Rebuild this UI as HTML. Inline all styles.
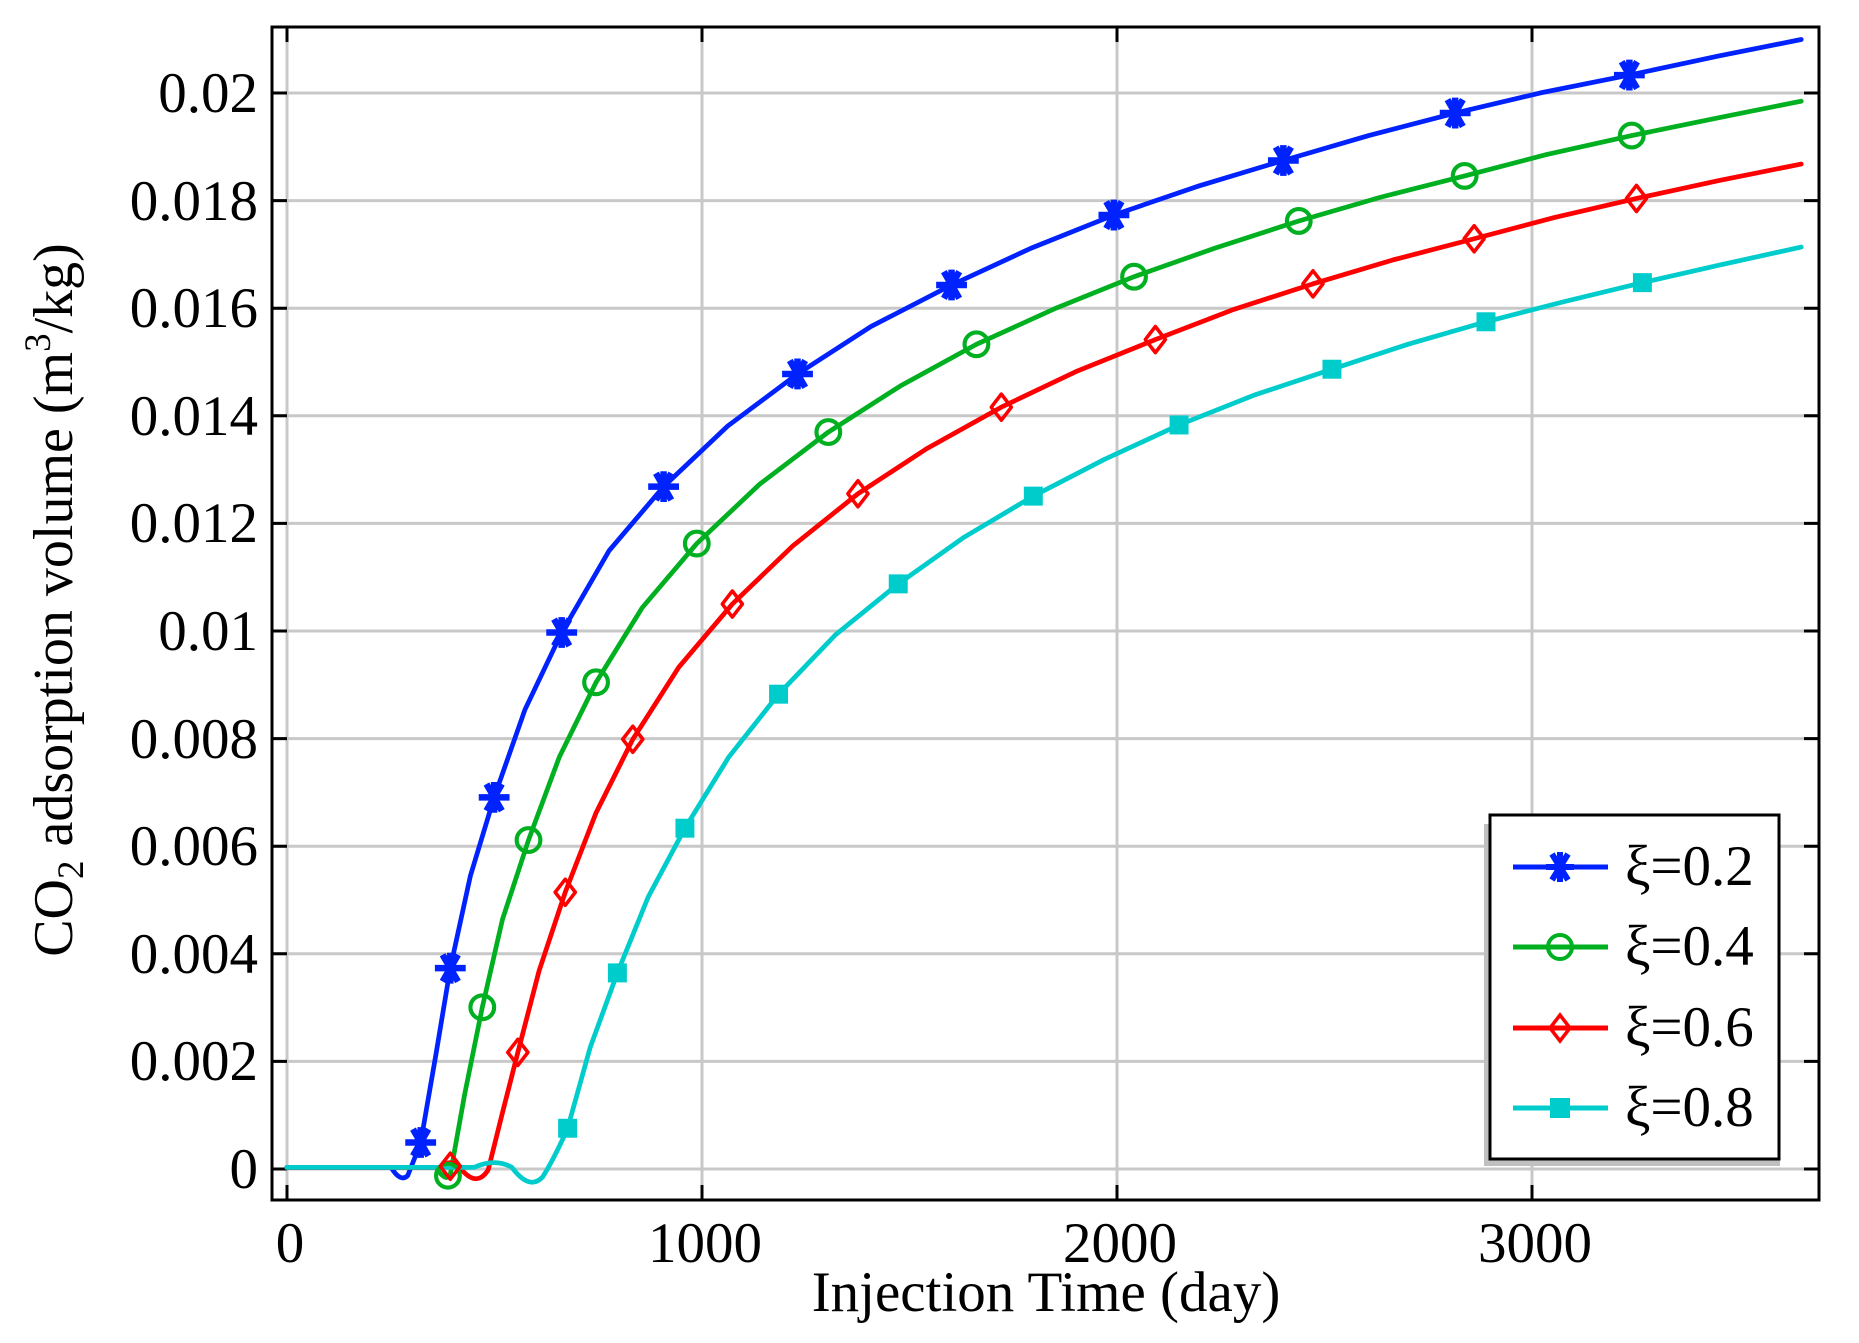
<!DOCTYPE html>
<html><head><meta charset="utf-8"><style>
html,body{margin:0;padding:0;background:#fff;}
svg{display:block;}
text{font-family:"Liberation Serif",serif;fill:#000;}
</style></head><body>
<svg width="1859" height="1343" viewBox="0 0 1859 1343" xmlns="http://www.w3.org/2000/svg">
<rect x="0" y="0" width="1859" height="1343" fill="#fff"/>
<g stroke="#c8c8c8" stroke-width="3">
<line x1="287" y1="28" x2="287" y2="1199"/>
<line x1="702" y1="28" x2="702" y2="1199"/>
<line x1="1117" y1="28" x2="1117" y2="1199"/>
<line x1="1532" y1="28" x2="1532" y2="1199"/>
<line x1="273" y1="1169" x2="1818" y2="1169"/>
<line x1="273" y1="1061.4" x2="1818" y2="1061.4"/>
<line x1="273" y1="953.8" x2="1818" y2="953.8"/>
<line x1="273" y1="846.2" x2="1818" y2="846.2"/>
<line x1="273" y1="738.6" x2="1818" y2="738.6"/>
<line x1="273" y1="631" x2="1818" y2="631"/>
<line x1="273" y1="523.4" x2="1818" y2="523.4"/>
<line x1="273" y1="415.8" x2="1818" y2="415.8"/>
<line x1="273" y1="308.2" x2="1818" y2="308.2"/>
<line x1="273" y1="200.6" x2="1818" y2="200.6"/>
<line x1="273" y1="93" x2="1818" y2="93"/>
</g>
<g stroke="#000" stroke-width="3">
<path d="M272 1169h15M272 1061.4h15M272 953.8h15M272 846.2h15M272 738.6h15M272 631h15M272 523.4h15M272 415.8h15M272 308.2h15M272 200.6h15M272 93h15"/>
<path d="M1819 1169h-15M1819 1061.4h-15M1819 953.8h-15M1819 846.2h-15M1819 738.6h-15M1819 631h-15M1819 523.4h-15M1819 415.8h-15M1819 308.2h-15M1819 200.6h-15M1819 93h-15"/>
<path d="M287 1200v-15M702 1200v-15M1117 1200v-15M1532 1200v-15M287 27v15M702 27v15M1117 27v15M1532 27v15"/>
</g>
<g transform="matrix(1.185 0 0 1.186 0 -2)" fill="none" stroke-width="4" stroke-linejoin="round" stroke-linecap="round">
<path stroke="#0022ff" d="M242 986 L330 986 Q338 999 344 993 L350 978 L355 965 L368 890 L380 818 L397 740 L417 674 L443 600 L474 535 L514 466 L560 412 L614 361 L673 317 L735 277 L803 242 L870 211 L940 183 L1010 159 L1083 137 L1155 116 L1228 97 L1300 80 L1375 65 L1450 49 L1520 35"/>
<path stroke="#00b020" d="M242 986 L368 986 Q376 999 380 992 L392 925 L407 851 L424 777 L446 710 L472 640 L503 577 L542 514 L588 460 L641 410 L699 366 L760 327 L824 292 L890 262 L957 235 L1025 211 L1096 188 L1165 168 L1236 150 L1305 132 L1377 116 L1450 101 L1520 87"/>
<path stroke="#ff0000" d="M242 986 L372 986 Q380 978 388 986 Q402 1004 412 988 L424 940 L437 889 L455 820 L477 754 L503 687 L534 625 L573 564 L618 511 L669 462 L724 418 L782 380 L845 345 L908 315 L975 288 L1040 263 L1108 241 L1175 221 L1244 203 L1312 185 L1381 169 L1450 154 L1520 140"/>
<path stroke="#00cccc" d="M242 986 L400 986 Q418 978 432 986 Q447 1006 458 994 Q468 978 479 953 L498 885 L521 822 L547 758 L578 700 L615 640 L657 587 L705 537 L758 494 L813 455 L872 420 L932 389 L995 360 L1058 335 L1124 313 L1188 292 L1254 273 L1320 256 L1386 240 L1452 225 L1520 210"/>
<g stroke="#0022ff" stroke-width="5.5" stroke-linecap="butt">
<path d="M-13 0H13M0-13V13M-6.5-11.3L6.5 11.3M6.5-11.3L-6.5 11.3" transform="translate(355 965)"/>
<path d="M-13 0H13M0-13V13M-6.5-11.3L6.5 11.3M6.5-11.3L-6.5 11.3" transform="translate(380 818)"/>
<path d="M-13 0H13M0-13V13M-6.5-11.3L6.5 11.3M6.5-11.3L-6.5 11.3" transform="translate(417 674)"/>
<path d="M-13 0H13M0-13V13M-6.5-11.3L6.5 11.3M6.5-11.3L-6.5 11.3" transform="translate(474 535)"/>
<path d="M-13 0H13M0-13V13M-6.5-11.3L6.5 11.3M6.5-11.3L-6.5 11.3" transform="translate(560 412)"/>
<path d="M-13 0H13M0-13V13M-6.5-11.3L6.5 11.3M6.5-11.3L-6.5 11.3" transform="translate(673 317)"/>
<path d="M-13 0H13M0-13V13M-6.5-11.3L6.5 11.3M6.5-11.3L-6.5 11.3" transform="translate(803 242)"/>
<path d="M-13 0H13M0-13V13M-6.5-11.3L6.5 11.3M6.5-11.3L-6.5 11.3" transform="translate(940 183)"/>
<path d="M-13 0H13M0-13V13M-6.5-11.3L6.5 11.3M6.5-11.3L-6.5 11.3" transform="translate(1083 137)"/>
<path d="M-13 0H13M0-13V13M-6.5-11.3L6.5 11.3M6.5-11.3L-6.5 11.3" transform="translate(1228 97)"/>
<path d="M-13 0H13M0-13V13M-6.5-11.3L6.5 11.3M6.5-11.3L-6.5 11.3" transform="translate(1375 65)"/>
</g>
<g stroke="#00b020" stroke-width="3.5" fill="none">
<circle cx="378" cy="993" r="10"/><circle cx="407" cy="851" r="10"/><circle cx="446" cy="710" r="10"/>
<circle cx="503" cy="577" r="10"/><circle cx="588" cy="460" r="10"/><circle cx="699" cy="366" r="10"/>
<circle cx="824" cy="292" r="10"/><circle cx="957" cy="235" r="10"/><circle cx="1096" cy="188" r="10"/>
<circle cx="1236" cy="150" r="10"/><circle cx="1377" cy="116" r="10"/>
</g>
<g stroke="#ff0000" stroke-width="3" fill="none">
<path d="M380 974l8.5 11-8.5 11-8.5-11z"/><path d="M437 878l8.5 11-8.5 11-8.5-11z"/><path d="M477 743l8.5 11-8.5 11-8.5-11z"/>
<path d="M534 614l8.5 11-8.5 11-8.5-11z"/><path d="M618 500l8.5 11-8.5 11-8.5-11z"/><path d="M724 407l8.5 11-8.5 11-8.5-11z"/>
<path d="M845 334l8.5 11-8.5 11-8.5-11z"/><path d="M975 277l8.5 11-8.5 11-8.5-11z"/><path d="M1108 230l8.5 11-8.5 11-8.5-11z"/>
<path d="M1244 192l8.5 11-8.5 11-8.5-11z"/><path d="M1381 158l8.5 11-8.5 11-8.5-11z"/>
</g>
<g fill="#00cccc" stroke="none">
<rect x="471" y="945" width="16" height="16"/><rect x="513" y="814" width="16" height="16"/><rect x="570" y="692" width="16" height="16"/>
<rect x="649" y="579" width="16" height="16"/><rect x="750" y="486" width="16" height="16"/><rect x="864" y="412" width="16" height="16"/>
<rect x="987" y="352" width="16" height="16"/><rect x="1116" y="305" width="16" height="16"/><rect x="1246" y="265" width="16" height="16"/>
<rect x="1378" y="232" width="16" height="16"/>
</g>
</g>
<rect x="272" y="27" width="1547" height="1173" fill="none" stroke="#000" stroke-width="3"/>
<g font-size="57" text-anchor="end">
<text x="258" y="1188">0</text>
<text x="258" y="1080">0.002</text>
<text x="258" y="973">0.004</text>
<text x="258" y="865">0.006</text>
<text x="258" y="758">0.008</text>
<text x="258" y="650">0.01</text>
<text x="258" y="542">0.012</text>
<text x="258" y="435">0.014</text>
<text x="258" y="327">0.016</text>
<text x="258" y="220">0.018</text>
<text x="258" y="112">0.02</text>
</g>
<g font-size="57" text-anchor="middle">
<text x="290" y="1262">0</text>
<text x="705" y="1262">1000</text>
<text x="1120" y="1262">2000</text>
<text x="1535" y="1262">3000</text>
</g>
<text x="1046" y="1311" font-size="57" text-anchor="middle">Injection Time (day)</text>
<text transform="translate(72 600) rotate(-90)" font-size="56" text-anchor="middle">CO<tspan font-size="37" dy="11">2</tspan><tspan dy="-11"> adsorption volume (m</tspan><tspan font-size="37" dy="-22">3</tspan><tspan dy="22">/kg)</tspan></text>
<rect x="1484" y="824" width="296" height="342" fill="#c0c0c0"/>
<rect x="1490" y="815" width="289" height="344" fill="#fff" stroke="#000" stroke-width="3"/>
<g stroke-width="5">
<line x1="1513" y1="867" x2="1608" y2="867" stroke="#0022ff"/>
<path d="M1546 867h28M1560 852v30M1552 854l16 26M1568 854l-16 26" stroke="#0022ff" stroke-width="6"/>
<line x1="1513" y1="947" x2="1608" y2="947" stroke="#00b020"/>
<circle cx="1560" cy="947" r="12" fill="none" stroke="#00b020" stroke-width="4"/>
<line x1="1513" y1="1028" x2="1608" y2="1028" stroke="#ff0000"/>
<path d="M1560 1015l10 13-10 13-10-13z" fill="none" stroke="#ff0000" stroke-width="3.5"/>
<line x1="1513" y1="1108" x2="1608" y2="1108" stroke="#00cccc"/>
<rect x="1550" y="1098" width="20" height="20" fill="#00cccc" stroke="none"/>
</g>
<g font-size="57">
<text x="1625" y="885">ξ=0.2</text>
<text x="1625" y="965">ξ=0.4</text>
<text x="1625" y="1046">ξ=0.6</text>
<text x="1625" y="1126">ξ=0.8</text>
</g>
</svg>
</body></html>
